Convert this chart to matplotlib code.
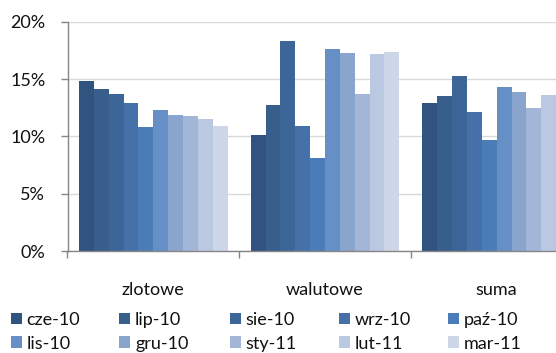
import matplotlib
matplotlib.use("Agg")
import matplotlib.pyplot as plt
import numpy as np
from matplotlib.patches import Patch

plt.rcParams['font.family'] = ['Lato', 'DejaVu Sans']

categories = ["zlotowe", "walutowe", "suma"]
months = ["cze-10", "lip-10", "sie-10", "wrz-10", "paź-10",
          "lis-10", "gru-10", "sty-11", "lut-11", "mar-11"]

# growth rates in percent, one list per month: [zlotowe, walutowe, suma]
cze_10 = [14.8, 10.1, 12.9]
lip_10 = [14.1, 12.7, 13.5]
sie_10 = [13.7, 18.3, 15.3]
wrz_10 = [12.9, 10.9, 12.1]
paz_10 = [10.8, 8.1, 9.7]
lis_10 = [12.3, 17.6, 14.3]
gru_10 = [11.85, 17.3, 13.9]
sty_11 = [11.75, 13.7, 12.5]
lut_11 = [11.55, 17.2, 13.6]
mar_11 = [10.9, 17.4, 13.2]

series = [cze_10, lip_10, sie_10, wrz_10, paz_10,
          lis_10, gru_10, sty_11, lut_11, mar_11]

colors = ["#30547f", "#385e8c", "#3d6698", "#4571a8", "#4a7db7",
          "#6690c5", "#8aa5cd", "#a4b6d7", "#bbc8e1", "#cdd7e8"]

W, H = 556, 353
fig = plt.figure(figsize=(W / 100, H / 100), dpi=100)
ax_left, ax_bottom = 67.5 / W, (H - 251) / H
ax_w, ax_h = 515 / W, (251 - 21.7) / H
ax = fig.add_axes([ax_left, ax_bottom, ax_w, ax_h])

x = np.arange(len(categories))
bw = 0.0865
n = len(series)
for i, (vals, col) in enumerate(zip(series, colors)):
    offs = (i - (n - 1) / 2) * bw
    ax.bar(x + offs, vals, width=bw, color=col, edgecolor="none", zorder=3)

ax.set_xlim(-0.5, 2.5)
ax.set_ylim(0, 20)
ax.set_yticks([0, 5, 10, 15, 20])
ax.set_yticklabels(["0%", "5%", "10%", "15%", "20%"])
ax.yaxis.grid(True, color="#d9d9d9", linewidth=1.0, zorder=0)
ax.set_axisbelow(True)

fs = 13
ax.set_xticks(x)
ax.set_xticklabels(categories)
ax.set_xticks([-0.5, 0.5, 1.5, 2.5], minor=True)
ax.tick_params(axis="x", which="major", length=0, pad=22, labelsize=fs,
               labelcolor="#111111")
ax.tick_params(axis="x", which="minor", length=5, width=1, color="#868686",
               direction="out")
ax.tick_params(axis="y", length=5, width=1, color="#868686", pad=11,
               labelsize=fs, labelcolor="#111111")

for s in ["top", "right"]:
    ax.spines[s].set_visible(False)
for s in ["left", "bottom"]:
    ax.spines[s].set_color("#868686")
    ax.spines[s].set_linewidth(1.0)
ax.spines["bottom"].set_zorder(4)

# legend: five columns of two entries each, evenly spaced
col_x = [11, 119.3, 230, 339, 448.3]
for c in range(5):
    idx = [c, c + 5]
    handles = [Patch(facecolor=colors[k], edgecolor="none") for k in idx]
    labels = [months[k] for k in idx]
    fig.legend(handles, labels, loc="upper left",
               bbox_to_anchor=(col_x[c] / W, 1 - 312 / H),
               bbox_transform=fig.transFigure,
               frameon=False, fontsize=fs, handlelength=0.62,
               handleheight=0.62, handletextpad=0.25, labelspacing=0.42,
               borderpad=0, borderaxespad=0, labelcolor="#111111")

fig.savefig("out.png", dpi=100)
